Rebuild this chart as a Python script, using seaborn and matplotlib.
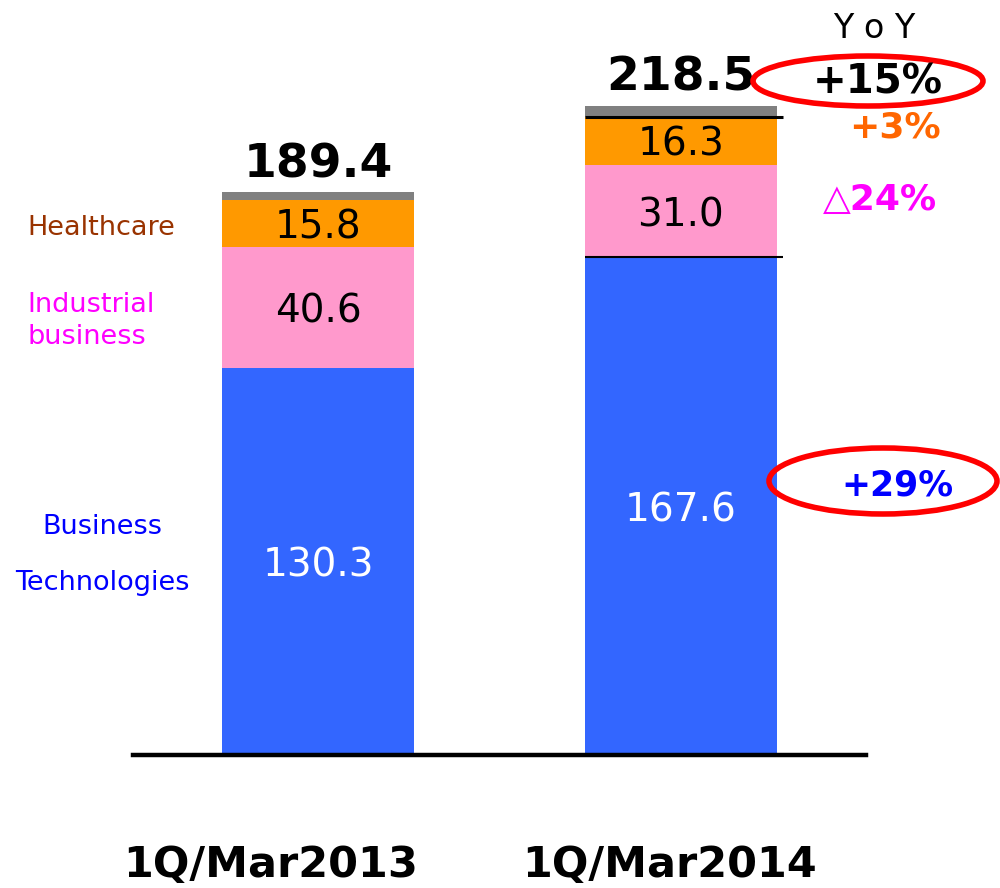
import numpy as np
import pandas as pd
import matplotlib
matplotlib.use("Agg")
import matplotlib.pyplot as plt
import matplotlib.patches as mpatches
from matplotlib.transforms import ScaledTranslation
import seaborn as sns

# data
periods = ["1Q/Mar2013", "1Q/Mar2014"]
business_tech = [130.3, 167.6]
industrial = [40.6, 31.0]
healthcare = [15.8, 16.3]
totals = [189.4, 218.5]

yoy_labels = ["+15%", "+3%", "\u25b324%", "+29%"]

BLUE = "#3366FF"
PINK = "#FF99CC"
ORANGE = "#FF9900"
GRAY = "#808080"

sns.set_theme(style="white")
plt.rcParams["font.family"] = ["DejaVu Sans"]

df = pd.DataFrame({
    "period": periods,
    "bt": business_tech,
    "ind": industrial,
    "hc": healthcare,
    "total": totals,
})
df["cum_ind"] = df["bt"] + df["ind"]
df["cum_hc"] = df["cum_ind"] + df["hc"]

fig = plt.figure(figsize=(10, 8.88), dpi=100)
ax = fig.add_axes([0.133, 0.1498, 0.733, 0.8502])

# stacked bars: draw tallest cumulative first
for col, color in [("total", GRAY), ("cum_hc", ORANGE), ("cum_ind", PINK), ("bt", BLUE)]:
    sns.barplot(data=df, x="period", y=col, color=color, saturation=1,
                width=0.53, linewidth=0, ax=ax)

# thin dividers on the second bar
ax.hlines([df["cum_hc"][1], df["bt"][1]], 1 - 0.265, 1 + 0.28,
          color="black", lw=[2.2, 1.5], zorder=5)

ax.set_xlim(-0.51, 1.51)
ax.set_ylim(0, 254.2)
ax.set_xlabel("")
ax.set_ylabel("")
ax.set_yticks([])
for side in ["left", "right", "top"]:
    ax.spines[side].set_visible(False)
ax.spines["bottom"].set_linewidth(3.2)
ax.spines["bottom"].set_color("black")
ax.tick_params(axis="x", length=0, pad=64)
ax.set_xticks(range(len(periods)))
ax.set_xticklabels(periods, fontsize=31, fontweight="bold", color="black")
for lab, dx in zip(ax.get_xticklabels(), [-47, -11]):
    lab.set_transform(lab.get_transform() + ScaledTranslation(dx / 100, 0, fig.dpi_scale_trans))

# segment values
for i in range(len(periods)):
    ax.text(i, df["bt"][i] / 2, f"{df['bt'][i]:.1f}", ha="center", va="center_baseline",
            fontsize=28, color="white")
    ax.text(i, df["bt"][i] + df["ind"][i] / 2, f"{df['ind'][i]:.1f}", ha="center",
            va="center_baseline", fontsize=28, color="black")
    ax.text(i, df["cum_ind"][i] + df["hc"][i] / 2, f"{df['hc'][i]:.1f}", ha="center",
            va="center_baseline", fontsize=28, color="black")
    ax.annotate(f"{df['total'][i]:.1f}", (i, max(df["total"][i], df["cum_hc"][i])),
                xytext=(0, 11), textcoords="offset points", ha="center",
                va="baseline", fontsize=34, fontweight="bold", color="black")

# segment names on the left
fig.text(0.027, 1 - 228 / 888, "Healthcare", ha="left", va="center",
         fontsize=19.5, color="#993300")
fig.text(0.027, 1 - 321 / 888, "Industrial\nbusiness", ha="left", va="center",
         fontsize=19.5, color="#FF00FF", linespacing=1.33)
fig.text(0.102, 1 - 527 / 888, "Business", ha="center", va="center",
         fontsize=19.5, color="#0000FF")
fig.text(0.102, 1 - 583 / 888, "Technologies", ha="center", va="center",
         fontsize=19.5, color="#0000FF")

# YoY column
fig.text(0.874, 1 - 28 / 888, "Y o Y", ha="center", va="center",
         fontsize=24, color="black")
fig.text(0.878, 1 - 82 / 888, yoy_labels[0], ha="center", va="center",
         fontsize=29, fontweight="bold", color="black")
fig.text(0.895, 1 - 128 / 888, yoy_labels[1], ha="center", va="center",
         fontsize=26, fontweight="bold", color="#FF6600")
fig.text(0.880, 1 - 200 / 888, yoy_labels[2], ha="center", va="center",
         fontsize=26, fontweight="bold", color="#FF00FF")
fig.text(0.897, 1 - 485 / 888, yoy_labels[3], ha="center", va="center",
         fontsize=25, fontweight="bold", color="#0000FF")

# red highlight ellipses
for cx, cy, w, h in [(868, 81, 230, 50), (883, 481, 228, 66)]:
    fig.patches.append(mpatches.Ellipse((cx / 1000, 1 - cy / 888), w / 1000, h / 888,
                                        transform=fig.transFigure, fill=False,
                                        edgecolor="#FF0000", lw=4))

fig.savefig("out.png", dpi=100, facecolor="white")
